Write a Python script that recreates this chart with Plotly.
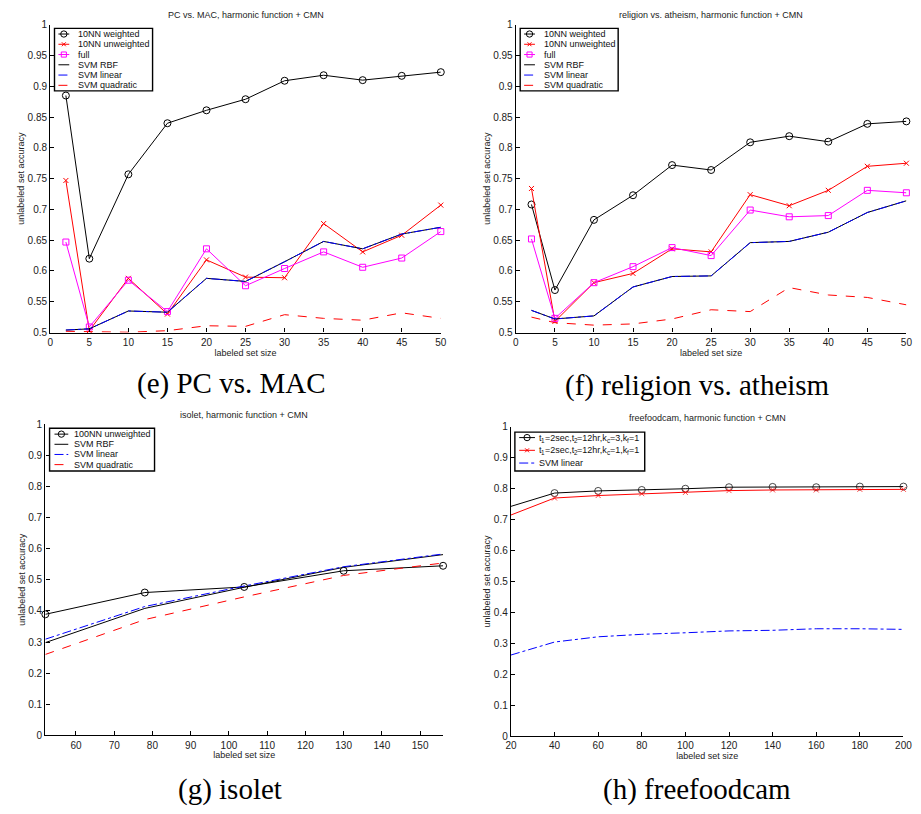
import re
import plotly.graph_objects as go

W, H = 921, 814

# ---------------- data ----------------
x_e = [2, 5, 10, 15, 20, 25, 30, 35, 40, 45, 50]
e_10nn_w = [0.885, 0.620, 0.757, 0.840, 0.861, 0.879, 0.909, 0.918, 0.910, 0.917, 0.923]
e_10nn_u = [0.747, 0.503, 0.588, 0.530, 0.618, 0.590, 0.589, 0.677, 0.631, 0.658, 0.707]
e_full = [0.647, 0.509, 0.585, 0.534, 0.636, 0.576, 0.604, 0.631, 0.606, 0.621, 0.664]
e_svm_rbf = [0.504, 0.506, 0.535, 0.533, 0.588, 0.583, 0.615, 0.648, 0.636, 0.660, 0.671]
e_svm_lin = [0.504, 0.506, 0.535, 0.533, 0.588, 0.583, 0.615, 0.648, 0.636, 0.660, 0.671]
e_svm_quad = [0.502, 0.501, 0.5005, 0.503, 0.511, 0.510, 0.529, 0.523, 0.520, 0.532, 0.523]

x_f = [2, 5, 10, 15, 20, 25, 30, 35, 40, 45, 50]
f_10nn_w = [0.708, 0.569, 0.683, 0.723, 0.772, 0.764, 0.809, 0.819, 0.810, 0.839, 0.843]
f_10nn_u = [0.734, 0.518, 0.581, 0.596, 0.636, 0.631, 0.724, 0.706, 0.731, 0.770, 0.775]
f_full = [0.652, 0.523, 0.581, 0.607, 0.638, 0.625, 0.699, 0.688, 0.690, 0.731, 0.727]
f_svm_rbf = [0.536, 0.522, 0.527, 0.574, 0.591, 0.592, 0.646, 0.648, 0.663, 0.695, 0.714]
f_svm_lin = [0.536, 0.522, 0.527, 0.574, 0.591, 0.592, 0.646, 0.648, 0.663, 0.695, 0.714]
f_svm_quad = [0.525, 0.516, 0.512, 0.514, 0.522, 0.537, 0.534, 0.573, 0.561, 0.557, 0.545]

x_g = [52, 78, 104, 130, 156]
g_100nn_u = [0.389, 0.459, 0.477, 0.529, 0.545]
g_svm_rbf = [0.298, 0.408, 0.476, 0.540, 0.581]
g_svm_lin = [0.309, 0.414, 0.480, 0.542, 0.583]
g_svm_quad = [0.260, 0.372, 0.445, 0.514, 0.554]

x_h = [20, 40, 60, 80, 100, 120, 140, 160, 180, 200]
h_kc3 = [0.743, 0.786, 0.793, 0.796, 0.800, 0.805, 0.806, 0.805, 0.807, 0.807]
h_kc1 = [0.715, 0.770, 0.778, 0.784, 0.788, 0.794, 0.796, 0.796, 0.798, 0.798]
h_svm_lin = [0.262, 0.304, 0.321, 0.329, 0.334, 0.340, 0.342, 0.347, 0.347, 0.345]

ticks_top_y = [0.5, 0.55, 0.6, 0.65, 0.7, 0.75, 0.8, 0.85, 0.9, 0.95, 1.0]
ticks_top_y_txt = ["0.5", "0.55", "0.6", "0.65", "0.7", "0.75", "0.8", "0.85", "0.9", "0.95", "1"]
ticks_top_x = [0, 5, 10, 15, 20, 25, 30, 35, 40, 45, 50]
ticks_bot_y = [0, 0.1, 0.2, 0.3, 0.4, 0.5, 0.6, 0.7, 0.8, 0.9, 1.0]
ticks_bot_y_txt = ["0", "0.1", "0.2", "0.3", "0.4", "0.5", "0.6", "0.7", "0.8", "0.9", "1"]
ticks_g_x = [60, 70, 80, 90, 100, 110, 120, 130, 140, 150]
ticks_h_x = [20, 40, 60, 80, 100, 120, 140, 160, 180, 200]

titles = ["PC vs. MAC, harmonic function + CMN",
          "religion vs. atheism, harmonic function + CMN",
          "isolet, harmonic function + CMN",
          "freefoodcam, harmonic function + CMN"]
captions = ["(e) PC vs. MAC", "(f) religion vs. atheism", "(g) isolet", "(h) freefoodcam"]
x_title = "labeled set size"
y_title = "unlabeled set accuracy"

lab_top = ["10NN weighted", "10NN unweighted", "full", "SVM RBF", "SVM linear", "SVM quadratic"]
lab_g = ["100NN unweighted", "SVM RBF", "SVM linear", "SVM quadratic"]
lab_h = ["t<sub>1</sub>=2sec,t<sub>2</sub>=12hr,k<sub>c</sub>=3,k<sub>f</sub>=1",
         "t<sub>1</sub>=2sec,t<sub>2</sub>=12hr,k<sub>c</sub>=1,k<sub>f</sub>=1",
         "SVM linear"]

# ---------------- helpers ----------------
def px(x):
    return x / W

def py(y):
    return 1 - y / H

SANS = "Liberation Sans"
BLACK = "#000000"
RED = "#ff0000"
MAG = "#ff00ff"
BLUE = "#0000ff"

# Arial / Liberation Sans advance widths (per 1000 em) for the characters used
ADV = {c: 556 for c in "0123456789"}
ADV.update({"t": 278, "=": 584, "s": 500, "e": 556, "c": 500, ",": 278, "h": 556,
            "r": 333, "k": 500, "f": 278, " ": 278})

def text_width(s, size):
    return sum(ADV.get(ch, 556) for ch in s) * size / 1000.0

# styles: (color, dash, symbol)
st_top = [(BLACK, "solid", "circle-open"), (RED, "solid", "x-thin-open"),
          (MAG, "solid", "square-open"), (BLACK, "solid", None),
          (BLUE, "dashdot", None), (RED, "dash", None)]
st_g = [(BLACK, "solid", "circle-open"), (BLACK, "solid", None),
        (BLUE, "dashdot", None), (RED, "dash", None)]
st_h = [(BLACK, "solid", "circle-open"), (RED, "solid", "x-thin-open"),
        (BLUE, "dashdot", None)]

fig = go.Figure()

def add_series(xs, ys, style, xa, ya, sizes=None):
    color, dash, sym = style
    mode = "lines+markers" if sym else "lines"
    mk = dict(symbol=sym or "circle", size=7, color=color,
              line=dict(color=color, width=1))
    if sym and sym.startswith("x"):
        mk["size"] = 5
    if sym and sym.startswith("square"):
        mk["size"] = 6
    if sizes is not None and sym:
        mk["size"] = [mk["size"] if s else 0 for s in sizes]
    fig.add_trace(go.Scatter(x=xs, y=ys, mode=mode, xaxis=xa, yaxis=ya,
                             line=dict(color=color, width=1, dash=dash),
                             marker=mk, cliponaxis=False, showlegend=False,
                             hoverinfo="skip"))

for ys, st in zip([e_10nn_w, e_10nn_u, e_full, e_svm_rbf, e_svm_lin, e_svm_quad], st_top):
    add_series(x_e, ys, st, "x", "y")
for ys, st in zip([f_10nn_w, f_10nn_u, f_full, f_svm_rbf, f_svm_lin, f_svm_quad], st_top):
    add_series(x_f, ys, st, "x2", "y2")
for ys, st in zip([g_100nn_u, g_svm_rbf, g_svm_lin, g_svm_quad], st_g):
    add_series(x_g, ys, st, "x3", "y3")
show_h = [False] + [True] * (len(x_h) - 1)
for ys, st in zip([h_kc3, h_kc1, h_svm_lin], st_h):
    add_series(x_h, ys, st, "x4", "y4", sizes=show_h)

# ---------------- axes ----------------
panels = {
    # name: (left, right, top, bottom) in px
    1: (45, 442, 19, 331),
    2: (518.3, 915.3, 19, 331),
    3: (40, 444.3, 424, 739.3),
    4: (513.3, 912.3, 426.7, 740),
}

def axis_common():
    return dict(showline=True, linecolor=BLACK, linewidth=1.4, mirror=False,
                ticks="inside", ticklen=4, tickwidth=1, tickcolor=BLACK,
                showgrid=False, zeroline=False,
                tickfont=dict(family=SANS, size=10, color="#222222"))

xinfo = {1: ([0, 50], ticks_top_x), 2: ([0, 50], ticks_top_x),
         3: ([52, 156], ticks_g_x), 4: ([20, 200], ticks_h_x)}
yinfo = {1: ([0.5, 1], ticks_top_y, ticks_top_y_txt), 2: ([0.5, 1], ticks_top_y, ticks_top_y_txt),
         3: ([0, 1], ticks_bot_y, ticks_bot_y_txt), 4: ([0, 1], ticks_bot_y, ticks_bot_y_txt)}

layout = {}
for i, (l, r, t, b) in panels.items():
    sx = "" if i == 1 else str(i)
    xa = axis_common()
    xa.update(domain=[px(l), px(r)], range=xinfo[i][0], tickvals=xinfo[i][1],
              anchor="y" + sx,
              title=dict(text=x_title, standoff=1,
                         font=dict(family=SANS, size=9, color="#222222")))
    ya = axis_common()
    ya.update(domain=[py(b), py(t)], range=yinfo[i][0], tickvals=yinfo[i][1],
              ticktext=yinfo[i][2], anchor="x" + sx,
              title=dict(text=y_title, standoff=1,
                         font=dict(family=SANS, size=9, color="#222222")))
    layout["xaxis" + sx] = xa
    layout["yaxis" + sx] = ya

annotations = []
shapes = []

def text(x, y, s, size, family=SANS, color="#222222", xanchor="center", angle=0, pad=1):
    annotations.append(dict(x=px(x), y=py(y), xref="paper", yref="paper", text=s,
                            showarrow=False, xanchor=xanchor, yanchor="middle",
                            textangle=angle, borderpad=pad, borderwidth=0 if pad == 0 else 1,
                            font=dict(family=family, size=size, color=color)))

def rich_text(x, y, s, size, color="#111111"):
    """Left-anchored text; <sub> parts are drawn as smaller, lowered pieces."""
    parts = [p for p in re.split(r"(<sub>.*?</sub>)", s) if p]
    if len(parts) == 1:
        text(x, y, s, size, xanchor="left", color=color, pad=0)
        return
    cur = x
    for p in parts:
        m = re.match(r"<sub>(.*?)</sub>", p)
        if m:
            sub = m.group(1)
            ss = size * 0.7
            text(cur, y + 2.6, sub, ss, xanchor="left", color=color, pad=0)
            cur += text_width(sub, ss)
        else:
            text(cur, y, p, size, xanchor="left", color=color, pad=0)
            cur += text_width(p, size)

# titles
for (xc, yc), s in zip([(243.5, 9.3), (716.5, 9.3), (242, 414.5), (713, 418)], titles):
    text(xc, yc, s, 9)
# captions
for (xc, yc), s in zip([(229, 383), (702.5, 385), (228, 794), (702.5, 794)], captions):
    text(xc, yc, s, 29, family="Liberation Serif", color=BLACK)

# ---------------- legends (drawn as decorations) ----------------
def legend(box, rows_y0, step, sx0, sx1, tx, labels, styles):
    l, t, r, b = box
    shapes.append(dict(type="rect", xref="paper", yref="paper",
                       x0=px(l), x1=px(r), y0=py(b), y1=py(t),
                       line=dict(color=BLACK, width=1.4), fillcolor="white", layer="above"))
    for k, (lab, st) in enumerate(zip(labels, styles)):
        color, dash, sym = st
        yc = rows_y0 + k * step
        shapes.append(dict(type="line", xref="paper", yref="paper",
                           x0=px(sx0), x1=px(sx1), y0=py(yc), y1=py(yc),
                           line=dict(color=color, width=1, dash=dash), layer="above"))
        cx = (sx0 + sx1) / 2
        if sym == "circle-open":
            rr = 3.2
            shapes.append(dict(type="circle", xref="paper", yref="paper",
                               x0=px(cx - rr), x1=px(cx + rr), y0=py(yc + rr), y1=py(yc - rr),
                               line=dict(color=color, width=1), fillcolor="rgba(0,0,0,0)", layer="above"))
        elif sym == "square-open":
            rr = 2.6
            shapes.append(dict(type="rect", xref="paper", yref="paper",
                               x0=px(cx - rr), x1=px(cx + rr), y0=py(yc + rr), y1=py(yc - rr),
                               line=dict(color=color, width=1), fillcolor="rgba(0,0,0,0)", layer="above"))
        elif sym and sym.startswith("x"):
            rr = 2.0
            for (a, c) in [(-rr, rr), (rr, -rr)]:
                shapes.append(dict(type="line", xref="paper", yref="paper",
                                   x0=px(cx - rr), x1=px(cx + rr), y0=py(yc + a), y1=py(yc + c),
                                   line=dict(color=color, width=1), layer="above"))
        rich_text(tx, yc, lab, 9)

legend((49.3, 22.7, 149, 86), 28.4, 10.4, 53.3, 64.3, 72.7, lab_top, st_top)
legend((522.7, 22.7, 622.3, 86), 28.4, 10.4, 526.7, 537.7, 547.3, lab_top, st_top)
legend((44.3, 428, 151, 471.3), 434, 10.3, 49.3, 63.3, 69.3, lab_g, st_g)
legend((517.3, 432, 649.3, 471.3), 437.5, 12.9, 521.7, 537.7, 541.7, lab_h, st_h)

fig.update_layout(**layout)
fig.update_layout(width=W, height=H, margin=dict(l=0, r=0, t=0, b=0),
                  paper_bgcolor="white", plot_bgcolor="white", showlegend=False,
                  annotations=annotations, shapes=shapes)

fig.write_html("out.html")
